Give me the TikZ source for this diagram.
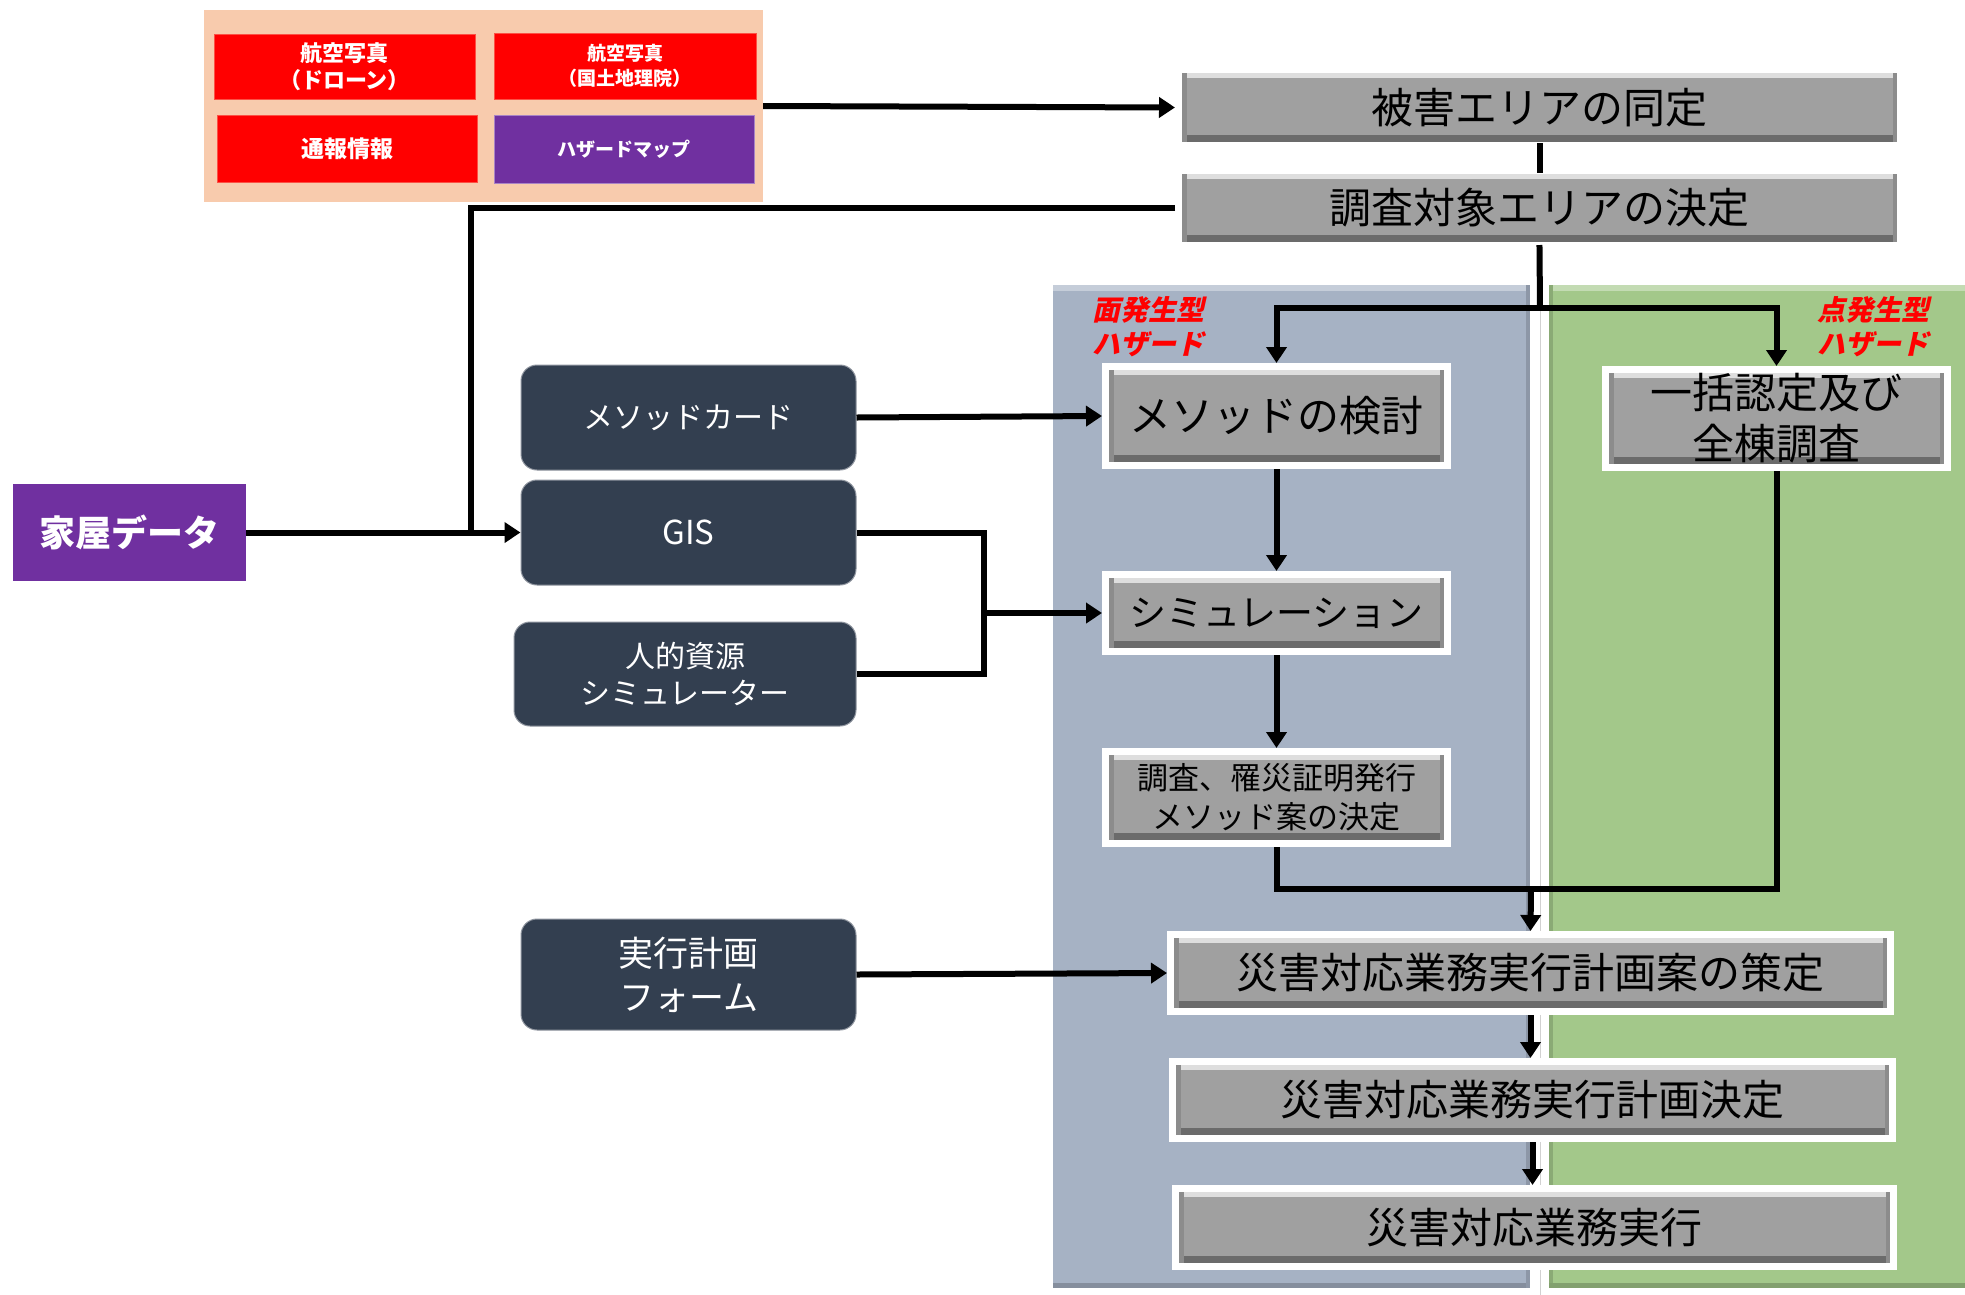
\documentclass[tikz,border=0pt]{standalone}
\usepackage{fontspec}
\setmainfont{Noto Sans CJK JP}
\newfontfamily\jpslant[FakeSlant=0.22]{Noto Sans CJK JP}
\usetikzlibrary{arrows.meta,shadows}
\definecolor{peach}{HTML}{F8CBAD}
\definecolor{pred}{HTML}{FF0000}
\definecolor{ppurple}{HTML}{7030A0}
\definecolor{dark}{HTML}{333F50}
\definecolor{bluep}{HTML}{A6B2C4}
\definecolor{greenp}{HTML}{A3C88A}
\definecolor{boxgray}{HTML}{A0A0A0}
\tikzset{
  gbox/.style={draw=white, line width=7pt, fill=boxgray, inner sep=0pt, align=center,
    font=\fontsize{42}{51}\selectfont,
    drop shadow={shadow xshift=2pt, shadow yshift=-3pt, opacity=0.3, fill=black},
    path picture={
      \fill[black!58] (path picture bounding box.south west) rectangle ([yshift=11pt]path picture bounding box.south east);
      \fill[white!65!boxgray] (path picture bounding box.north west) rectangle ([yshift=-8pt]path picture bounding box.north east);
      \fill[black!45] (path picture bounding box.south west) rectangle ([xshift=8pt]path picture bounding box.north west);
      \fill[black!45] ([xshift=-8pt]path picture bounding box.south east) rectangle (path picture bounding box.north east);
    }},
  dbox/.style={fill=dark, draw=dark!55!white, line width=1pt, rounded corners=16pt, text=white,
    align=center, inner sep=0pt, font=\fontsize{30}{37}\selectfont},
  srcbox/.style={draw=peach!40!pred, line width=1pt, inner sep=0pt, text=white, align=center},
  redlab/.style={inner sep=0pt, align=left, text=pred, font=\jpslant\bfseries\fontsize{28}{34}\selectfont},
  ln/.style={line width=6pt, draw=black},
  conn/.style={line width=6pt, draw=black, -{Triangle[length=16pt,width=20pt]}},
}
\begin{document}
\begin{tikzpicture}[x=1pt,y=-1pt]
\useasboundingbox (0,0) rectangle (1965,1294);
\fill[white] (0,0) rectangle (1965,1294);

% panels
\fill[black!18] (1049,281) rectangle (1544,1300);
\fill[white] (1045,277) rectangle (1540,1300);
\fill[bluep] (1053,285) rectangle (1530,1288);
\fill[bluep!65!white] (1053,285) rectangle (1530,291);
\fill[bluep!80!black] (1053,1283) rectangle (1530,1288);
\fill[bluep!85!black] (1526,285) rectangle (1530,1288);
\fill[black!18] (1545,281) rectangle (1975,1300);
\fill[white] (1541,277) rectangle (1975,1300);
\fill[greenp] (1549,285) rectangle (1975,1288);
\fill[greenp!65!white] (1549,285) rectangle (1975,291);
\fill[greenp!85!black] (1549,285) rectangle (1553,1288);
\fill[greenp!80!black] (1549,1283) rectangle (1975,1288);

% source panel
\node[fill=peach, inner sep=0pt, minimum width=559pt, minimum height=192pt] (peach) at (483.5,106) {};
\node[srcbox, fill=pred, minimum width=261pt, minimum height=65pt, font=\bfseries\fontsize{22}{27}\selectfont] (r1) at (344.5,66.5) {航空写真\\（ドローン）};
\node[srcbox, fill=pred, minimum width=262pt, minimum height=66pt, font=\bfseries\fontsize{19}{25}\selectfont] (r2) at (625,66) {航空写真\\（国土地理院）};
\node[srcbox, fill=pred, minimum width=260pt, minimum height=67pt, font=\bfseries\fontsize{23}{28}\selectfont] (r3) at (347,148.5) {通報情報};
\node[srcbox, fill=ppurple, draw=ppurple!60!white, minimum width=260pt, minimum height=68pt, font=\bfseries\fontsize{19}{24}\selectfont] (hz) at (624,149) {ハザードマップ};

% gray process boxes
\node[gbox, minimum width=722pt, minimum height=76pt] (higai) at (1539.5,107.5) {被害エリアの同定};
\node[gbox, minimum width=722pt, minimum height=75pt] (chosa) at (1539.5,208) {調査対象エリアの決定};
\node[gbox, minimum width=342pt, minimum height=99pt] (method) at (1276.5,416) {メソッドの検討};
\node[gbox, minimum width=342pt, minimum height=98pt] (ikkatsu) at (1776.5,418.5) {一括認定及び\\全棟調査};
\node[gbox, minimum width=342pt, minimum height=77pt, font=\fontsize{37}{44}\selectfont] (sim) at (1276.5,613) {シミュレーション};
\node[gbox, minimum width=342pt, minimum height=92pt, font=\fontsize{31}{39}\selectfont] (chosa2) at (1276.5,797.5) {調査、罹災証明発行\\メソッド案の決定};
\node[gbox, minimum width=720pt, minimum height=77pt] (plan1) at (1530.5,973) {災害対応業務実行計画案の策定};
\node[gbox, minimum width=720pt, minimum height=77pt] (plan2) at (1532.5,1100) {災害対応業務実行計画決定};
\node[gbox, minimum width=718pt, minimum height=78pt] (exec) at (1534.5,1227.5) {災害対応業務実行};

% labels
\node[redlab, anchor=north west] (lab1) at (1092,296) {面発生型\\ハザード};
\node[redlab, anchor=north west] (lab2) at (1817,296) {点発生型\\ハザード};

% dark tool boxes
\node[dbox, minimum width=335pt, minimum height=105pt] (mcard) at (688.5,417.5) {メソッドカード};
\node[dbox, minimum width=335pt, minimum height=105pt, font=\fontsize{33}{37}\selectfont] (gis) at (688.5,532.5) {GIS};
\node[dbox, minimum width=342pt, minimum height=104pt] (hr) at (685,674) {人的資源\\シミュレーター};
\node[dbox, minimum width=335pt, minimum height=111pt, font=\fontsize{35}{44}\selectfont] (form) at (688.5,974.5) {実行計画\\フォーム};

\node[fill=ppurple, inner sep=0pt, minimum width=233pt, minimum height=97pt, text=white, font=\bfseries\fontsize{36}{40}\selectfont] (house) at (129.5,532.5) {家屋データ};

% connectors
\draw[conn] (peach.east) -- (higai.west);
\draw[ln, shorten <=-6pt, shorten >=-6pt] (higai.south) -- (chosa.north);
\coordinate (br) at (1540,308);
\draw[ln, shorten <=-4pt] (chosa.south) -- (br);
\draw[conn] (br) -| (method.north);
\draw[conn] (br) -| (ikkatsu.north);
\coordinate (j1) at (471,532.5);
\draw[ln] (chosa.west) -| (j1);
\draw[conn] (house.east) -- (gis.west);
\draw[conn] (mcard.east) -- (method.west);
\coordinate (j2) at (984,613);
\draw[ln] (gis.east) -| (j2);
\draw[ln] (hr.east) -| (j2);
\draw[conn] (j2) -- (sim.west);
\draw[conn] (method.south) -- (sim.north);
\draw[conn] (sim.south) -- (chosa2.north);
\coordinate (mg) at (1531,889);
\draw[ln] (chosa2.south) |- (mg);
\draw[ln] (ikkatsu.south) |- (mg);
\draw[conn] (mg) -- (plan1.north);
\draw[conn] (form.east) -- (plan1.west);
\draw[conn] (plan1.south) -- (plan1.south |- plan2.north);
\draw[conn] (plan2.south) -- (plan2.south |- exec.north);
\end{tikzpicture}
\end{document}
